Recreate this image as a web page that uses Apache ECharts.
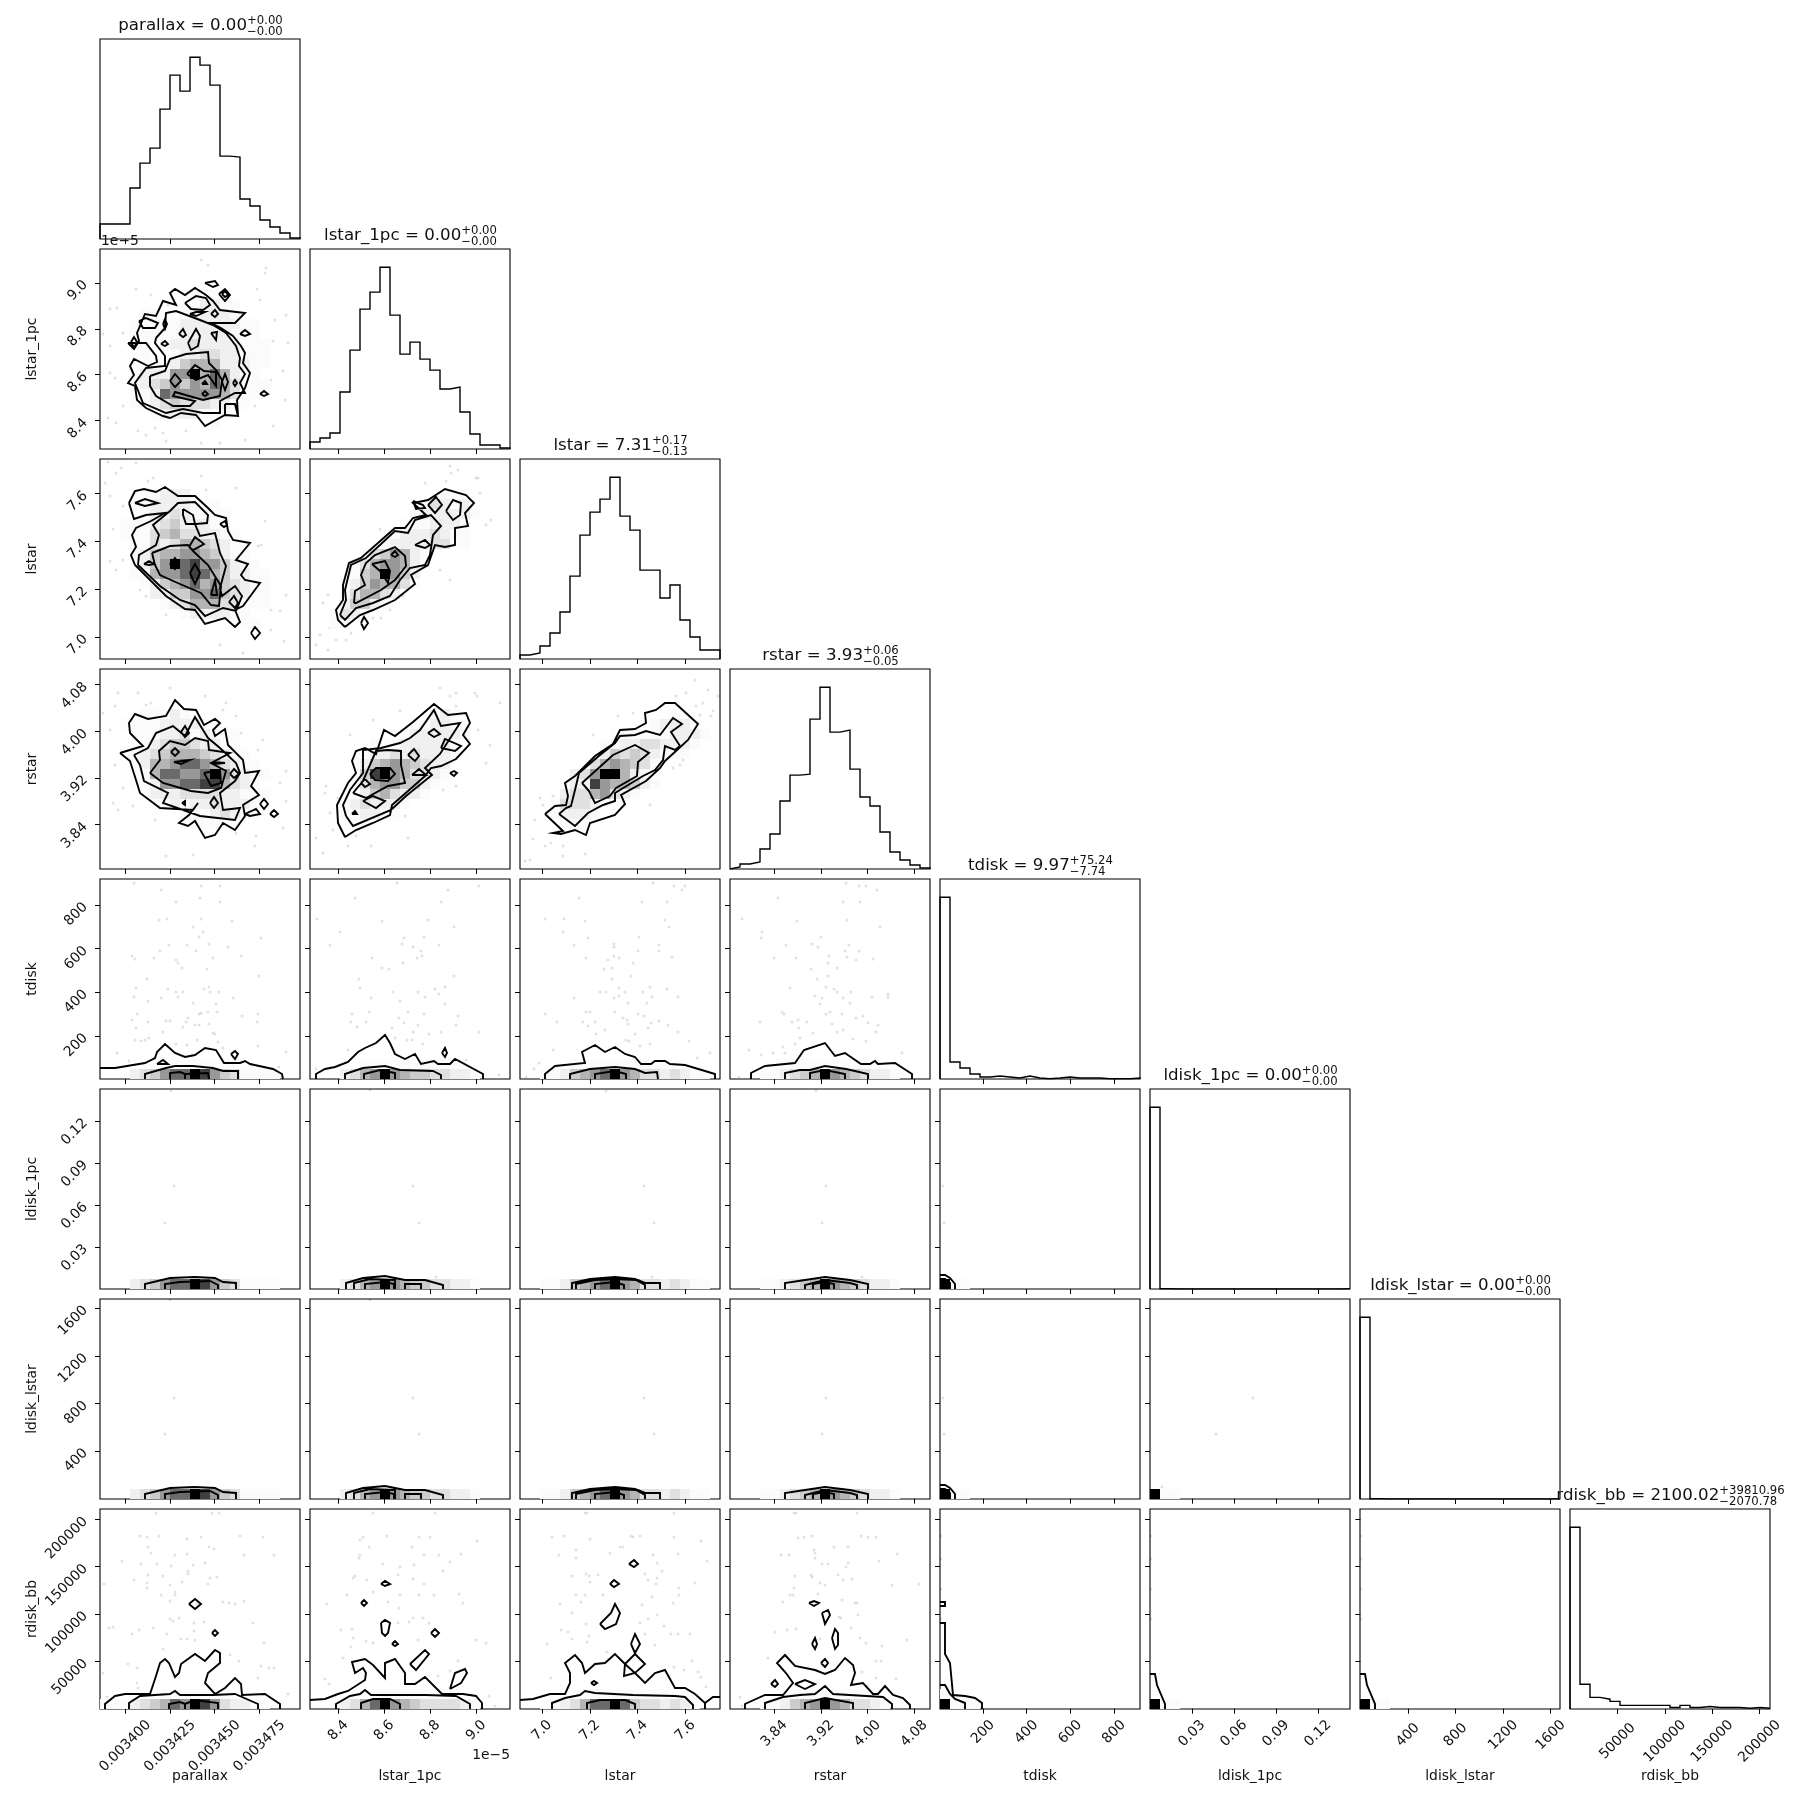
<!DOCTYPE html>
<html><head><meta charset="utf-8"><style>html,body{margin:0;background:#fff}#c{width:1809px;height:1809px}</style>
<script src="https://cdn.jsdelivr.net/npm/echarts@6/dist/echarts.min.js"></script></head><body><div id="c"></div><script>
const varNames=['parallax','lstar_1pc','lstar','rstar','tdisk','ldisk_1pc','ldisk_lstar','rdisk_bb'];
const medians=['0.00','0.00','7.31','3.93','9.97','0.00','0.00','2100.02'];
const uppers=['+0.00','+0.00','+0.17','+0.06','+75.24','+0.00','+0.00','+39810.96'];
const lowers=['\u22120.00','\u22120.00','\u22120.13','\u22120.05','\u22127.74','\u22120.00','\u22120.00','\u22122070.78'];
const axisMin=[0.0033858,8.277e-5,6.908,3.764,3,0,-3,-300];
const axisMax=[0.0034977,9.147e-5,7.745,4.107,919,0.1429,1678,210970];
const tickValues=[[0.0034,0.003425,0.00345,0.003475],[8.4e-5,8.6e-5,8.8e-5,9.0e-5],[7.0,7.2,7.4,7.6],[3.84,3.92,4.00,4.08],[200,400,600,800],[0.03,0.06,0.09,0.12],[400,800,1200,1600],[50000,100000,150000,200000]];
const tickLabels=[['0.003400','0.003425','0.003450','0.003475'],['8.4','8.6','8.8','9.0'],['7.0','7.2','7.4','7.6'],['3.84','3.92','4.00','4.08'],['200','400','600','800'],['0.03','0.06','0.09','0.12'],['400','800','1200','1600'],['50000','100000','150000','200000']];

const hist_parallax=[15,15,15,51,76,91,130,164,148,182,174,154,83,82,40,33,19,12,6,1];
const hist_lstar_1pc=[7,11,16,57,99,140,157,182,134,95,107,90,79,60,62,37,15,4,4,1];
const hist_lstar=[4,6,13,26,47,83,124,147,160,182,143,129,89,89,61,74,39,22,9,9];
const hist_rstar=[2,5,7,20,35,68,94,95,150,182,137,139,100,72,63,37,17,9,4,1];
const hist_tdisk=[182,17,11,5,2,3,2,1,3,1,0.3,1,2,1,1,1,0.3,0.3,0.3,1];
const hist_ldisk_1pc=[182,0.3,0,0,0,0,0,0,0,0,0,0,0,0,0,0,0,0,0,0.2];
const hist_ldisk_lstar=[182,0.3,0,0,0,0,0,0,0,0,0,0,0,0,0,0,0,0,0,0.2];
const hist_rdisk_bb=[182,24.7,11.6,9.8,7.6,3.6,3.6,3.6,3.6,3.6,1.5,3.6,1.5,2.5,1.5,1.5,1.5,0.7,1.5,0.7];
const histograms=[hist_parallax,hist_lstar_1pc,hist_lstar,hist_rstar,hist_tdisk,hist_ldisk_1pc,hist_ldisk_lstar,hist_rdisk_bb];

// 2D histogram density: first number = index of the top row listed, then one string per bin row (level 0-9 per bin)
const heat_1_0=[15,"00000000111100000000","00000000112211000000","00001100112221000000","00011111222222110000","00011111222221110000","00011012232222111000","00001001223322111000","00011112455522211000","00012226695752110000","00012346465753111000","00011276666653111000","00011234333221100000","00000122221110000000","00000000000100000000"];
const heat_2_0=[16,"00001122210000000000","00011222211100000000","00011223211110000000","00111234222110000000","00111345332211000000","00011323554321100000","00012455665421100000","00012469786642110000","00011566787542211000","00001245675643211000","00000224466743211000","00000012355533111000","00000000122221100000","00000000000000110000"];
const heat_2_1=[16,"00000000000001110000","00000000000032120000","00000000001222221000","00000000011122210000","00000000122232110000","00000001222233110000","00000134652100000000","00001356652100000000","00001459642000000000","00002465531000000000","00013553200000000000","00024421000000000000","00132100000000000000","00110000000000000000"];
const heat_3_0=[15,"00001112100000000000","00111122221000000000","00011122312111000000","00011234432211000000","00012345554321100000","00012556776532110000","00011577667963211000","00011266778853210000","00000222333322111000","00000112122322211000","00000000111232110000","00000000011111000000"];
const heat_3_1=[15,"00000000000012100000","00000000001122110000","00000000012222210000","00000011122222100000","00000122323222110000","00001245654322000000","00001489653321000000","00001356644210000000","00000245322100000000","00012322210000000000","00011221100000000000","00001100000000000000"];
const heat_3_2=[15,"00000000000000011000","00000000000001222100","00000000011111122210","00000000112233222100","00000000243432111000","00000003565431000000","00000236995210000000","00000228655421000000","00002335632100000000","00013332100000000000","00012221000000000000","00001110000000000000"];
const strip_c0=[1,"00000111111111000000","00023467798643111100"];
const strip_c1=[1,"00000111111111100000","00023569654433221000"];
const strip_c2=[1,"00000111111111100000","00112456796533232110"];
const strip_c3=[1,"00000111111111100000","00011234596543221000"];
const strip_low_c0=[0,"00023467798643111100"];
const strip_low_c1=[0,"00023569654433221000"];
const strip_low_c2=[0,"00112456796533232110"];
const strip_low_c3=[0,"00011234596543221000"];
const heat_7_0=[1,"00000011111110000000","11123457698632211000"];
const heat_7_1=[1,"00000011111111100000","00023579654333321000"];
const heat_7_2=[1,"00000011111111100000","00112357797433232100"];
const heat_7_3=[1,"00000011111111000000","00011245696533210000"];
const heat_corner=[0,"91100000000000000000"];
const heat_7_4=[1,"11000000000000000000","91110000000000000000"];

// contours: flat lists u,v in bin units along each axis
const closed_1_0=[
[2.8,10.6,3.4,10,3.9,10.8,3.7,11.6,4.5,13.5,5.6,13.3,6.3,14.8,7.6,14.4,7,15.6,7.5,16,8.5,15.4,9.5,16.1,10.6,15.4,11.3,14.8,12,13.9,12.8,13.8,14.5,13.6,13.5,12.6,11.1,12.6,12.1,12.1,13.3,11.3,14.1,10.3,14.5,9.6,14.3,8.6,15,7.6,14.5,6.1,13.7,4.9,13.8,3.3,12.5,3.4,10.5,2.3,9.6,3.4,8.1,3.6,7,3.1,6.3,3.3,4.6,4.1,3.7,4.9,3.5,6.3,2.8,6.6,3.4,7.4,3,8.3,3.4,9,4.8,8.3,5.7,8.7,5.6,9.3,4.6,10.6,3.9,10.6],
[5.6,11.1,6.5,12.1,6.6,13.6,7.6,13.8,10,12.9,11.3,12.4,12.6,11.6,13.6,10.3,14,9.1,13.9,8.3,14.5,7.5,14,6.6,14.5,5.6,13.5,5.6,12,4.8,12,3.6,10.3,3.6,8.3,4,6.6,3.6,4.3,4.6,3.5,6.6,4.6,8.1,6.5,8.3,6.5,9.3,5.5,10.6],
[5,7.3,6.5,7.8,7,9,8.6,9.5,10.8,9.7,10.9,8.6,11.6,7.9,12.2,6.9,12,5.3,10.3,4.9,7.5,5.7,7.3,5.3,9.5,4.8,9,4.3,7.3,4.3,5.6,5.3,5,6.3],
[3.1,10.7,3.4,11.2,3.7,10.7,3.4,10.1],[3.9,12.8,4.6,13.1,5.8,12.6,5.5,12.1,4.3,12.1],[6.3,12.5,6.5,13,6.7,12.5,6.5,12],[6.1,10.5,6.5,10.8,6.8,10.5,6.5,10.3],[7.9,11.5,8.3,12,8.6,11.4,8.3,11.2],[8.8,10.6,9.6,12,10,11.3,9.8,10.3,9.1,9.9],[11.1,11.6,11.7,11.7,11.6,10.9],[14,11.5,14.5,11.9,15,11.5,14.5,11.3],[8.5,14.6,9.6,15.3,10.6,15.1,11,14.4,10.3,13.9,9.1,14],[9,13.5,9.6,13.7,10.5,13.7,9.6,13.3],[11.1,13.5,11.5,13.9,11.8,13.5,11.5,13.2],[10.5,16.6,11.5,16.8,11.8,16.4,11.3,16.2],[11.9,15.5,12.5,16,13,15.4,12.5,14.8],[12.2,15.5,12.5,15.8,12.8,15.4,12.5,15.2],[16,5.5,16.4,5.8,16.8,5.5,16.4,5.3],[12.5,4.5,13.5,4.5,13.8,3.3,12.5,3.4],[7,6.8,7.5,7.5,8.1,6.8,7.5,6.2],[8.7,7.5,9.5,8.4,10.4,7.8,11.6,7.7,11.6,6.3,10.8,7.4,9.6,6.9],[10.2,6.5,10.5,6.8,10.7,6.5,10.5,6.3],[10.2,5.5,10.5,5.8,10.8,5.5,10.5,5.3],[12.2,6.7,12.5,7.5,12.8,6.7,12.5,5.9],[13.3,6.6,13.5,6.9,13.7,6.6,13.5,6.3]];
const closed_2_0=[
[2.9,15.6,3.5,16.8,4.4,17,5.6,16.7,6.5,17.2,7.8,16.3,9.5,16.3,10.8,15.1,11.5,14.4,12.6,14.1,12.8,12.8,13.3,11.9,15,11.6,13.6,9.9,14.8,9.5,14.1,8.4,14.5,7.9,16,7.6,14.3,5.3,13.5,4.9,14,3.7,13.5,3.2,12.5,4.1,10.5,3.5,9.5,4.9,8.5,5,6.6,6.3,3.5,9.4,3.1,10.4,3.6,11.2,3.2,12.4,3.6,13.1,5.1,13.8,6.5,14.6,4.6,14.4,3.4,14],
[3.8,9.4,3.9,10.4,5.6,11.4,5.9,12.4,5.3,13.4,7,14.8,7.8,15.6,9.5,15.7,10.8,14.4,10.7,13.6,9.5,13.5,10,12.3,11.5,12.6,12,10.6,12.6,9.3,12,7.1,12.2,6.3,13.5,7.3,14.2,6.3,13.6,4.8,12.3,5.1,10.5,4.3,9.5,5.4,8,5.9,6,7.3],
[8.3,15,9.3,14.4,9.5,13.5,8.6,13.5,8.3,14.4],
[5.2,10.6,7,11.3,8.8,11.4,9.3,10.8,10.8,9.4,12.1,7.3,11.9,5.3,11.1,5.4,10.1,6.6,8,7.5,6,8.4,5.5,9.4],
[3.5,15.6,4.5,16,5.8,15.6,4.5,15.3],[12,13.5,12.5,13.8,12.7,13.4,12.4,13.2],[8.9,11.2,9.5,12.2,10.4,11.5,9.3,10.9],[4.4,9.5,4.9,9.8,5.4,9.5,4.9,9.4],[7,9.5,7.5,10.1,7.9,9.5,7.5,9],[9,8.6,9.5,9.5,10,8.6,9.5,7.5],[11.1,6.4,11.5,7.9,11.7,6.4],[12.9,5.7,13.4,6.3,13.8,5.6,13.5,5.1],[15.1,2.6,15.5,3.2,16,2.6,15.5,2]];
const closed_2_1=[
[3.5,3.2,2.8,3.9,2.6,4.9,3.3,5.9,3.3,7.4,3.9,9.6,5.1,10.1,8.5,13.1,9.5,13.1,10.3,14.1,11.6,14.4,10.3,15.6,11.8,15.9,13.5,17,15.6,16.4,16.4,15.6,15.5,14.6,15.8,13.3,14.5,13.1,14.5,11.4,13.5,11.2,12.5,11.4,11.8,9.4,10.1,8.4,10.5,7.5,8.5,5.9,6.3,4.9,5,4.4],
[3,4.4,3.6,5.9,3.5,6.9,4.1,9.4,5.6,10.1,8.5,12.8,9.8,12.6,10.5,13.9,12.1,14.4,13.1,13.3,12.3,12.4,12,10.4,11.5,9.4,10,9.1,9,7.9,8,6.3,6.3,5.6,4.6,5.1,3.5,3.9],
[4.4,5.6,4.5,6.8,5.5,7.4,5.1,8.4,5.6,9.6,6.5,10.4,8.5,11.2,9.5,10.3,9.6,9.3,8.5,7.9,7.1,6.9,4.6,5.6],
[6.2,9.5,7.5,9.8,8,8.8,7.8,7.6,7,8.8],[8.1,10.4,8.5,10.8,8.8,10.4,8.5,10.2],[10.5,11.4,11.5,11.9,12,11.4,11.5,11.1],[5.1,3.6,5.4,4.2,5.8,3.6,5.4,3],[11.8,15.4,12.6,16.2,13.2,15.4,12.5,14.6],[13.6,14.8,14.3,15.9,15.1,15.6,15,14.4,14.3,13.9],[10.3,15.8,11.3,15.4,11.5,15.1,10.6,15]];
const closed_3_0=[
[2,11.6,4.3,12.3,3,13.6,2.9,14.6,3.5,15.5,4.8,15,6.6,15.3,7.5,16.9,8.4,16,9.6,15.9,10.4,14.4,11.5,15,12,14.6,11.3,13.9,11.5,13.3,12.5,14,12.8,12.4,14.3,10.9,14.5,9.6,15.9,9.8,15.1,8.3,15.9,7.4,14.3,6.4,14.5,5.3,13.5,3.9,12.3,4.6,11.5,3.4,10.5,3.1,9.5,4.8,8.8,4.3,7.9,4.6,8.9,5.4,9.8,6.6,9.3,5.9,6,6.1,4,7.6,3.6,8.9,3,10.8],
[3.4,11.4,4.8,12.1,5.6,13.6,7.3,14.3,8.5,13.3,9.5,15.2,10.8,13.1,12,12.1,13.6,10.6,14,9.6,13.5,8.8,12,7.6,12.3,5.9,14,6.1,13.5,4.9,10,5.3,6.3,6.6,6.8,7.6,4.4,8.8,4,10.4],
[5,9.6,6,10.9,5.9,11.8,7,12.8,8.5,12.4,9.5,13.1,10.8,12.8,10.9,11.9,13,11.6,11.1,10.6,12.6,9.8,12.1,8.1,10.8,7.6,9.1,7.8,6.3,8.6],
[8.1,13.7,8.5,14.3,8.9,13.6,8.5,13.2],[7.1,11.7,7.5,12.1,7.9,11.7,7.5,11.3],[7.4,10.7,9,10.9,8.1,10.5],[11.3,10.7,12.5,10.6,11.3,10.5],[10.4,9.6,12,9.9,12.1,8.6,11.1,8.3,10.8,8.9],[13,9.5,13.4,10,13.9,9.5,13.4,9.1],[8.2,6.6,8.5,6.8,8.7,6.6,8.5,6.4],[11,6.6,11.4,7.2,11.8,6.6,11.4,6.1],[16,6.5,16.4,7,16.8,6.5,16.4,6],[17,5.5,17.4,5.9,17.8,5.5,17.4,5.2],[14.5,5.5,15.6,6,16,5.5,15,5.3]];
const closed_3_1=[
[3.5,3.2,2.8,4.6,2.7,6.4,3.8,8.6,4.6,9.6,4.2,10.8,4.6,11.8,5.5,12.1,6.6,11.5,7.4,13.9,8.5,13.3,10.3,14.7,12.4,16.5,13.8,15.4,15.6,15.6,16,14.6,15.3,13.4,16,12.5,14.6,11,13.1,10.3,12.1,10.1,11.5,9.3,9.8,7.8,8.2,6.4,8,5.4,6.3,4.6,4.6,3.9],
[3.6,5.3,3.3,6.4,4,7.9,5.3,9.6,5.3,11.9,7.1,12.1,9,12.6,10,13.1,11,13.9,12.4,15.9,13.1,14.3,15,14.6,13.9,12.9,13,11.5,11.5,10.1,12.2,9.4,9.6,7.3,8.1,5.9,4.3,4.3],
[4.3,7.6,5.3,8.8,6.6,11.8,7.8,11.9,9.1,11.8,9.1,10.4,9.5,8.6,7.8,8.3,5.6,7.1],
[6,9.5,6.6,10.1,8,10.1,8.5,9.5,7.8,8.8,6.5,8.9],[5.1,8.6,5.5,9,6,8.5,5.5,8.2],[5.3,6.8,6.3,7.3,7.5,6.8,6.6,6.1],[4.2,5.5,4.5,5.8,4.7,5.5,4.5,5.3],[9.8,11.4,10.4,12,10.9,11.3,10.5,10.8],[11.8,13.6,12.4,14,13,13.5,12.4,13.2],[13.1,12.1,13.5,13,15.1,12.3,14.5,11.8],[10.2,9.4,10.9,10,11.6,9.4],[14,9.6,14.4,9.8,14.7,9.6,14.4,9.3]];
const closed_3_2=[
[2.5,5.5,3.5,6.3,4.6,6.4,4.8,7.3,4.5,8.6,5.5,9.3,7.5,11.3,9.3,12.5,10,13.9,11.5,14,12.6,14.6,12.5,15.6,13.6,15.9,14.5,16.6,15.5,16.6,17.8,14.5,16.8,12.9,15.6,11.8,14.5,10.8,14,10.1,12.6,8.8,10.1,7.4,10.5,6.5,9.5,5.4,7,4.6,6.6,3.4,5.5,3.9,4.1,3.5,3.3,3.6,4.3,3.8],
[3.9,5.5,4.6,6.1,5.1,6.3,5.6,8.3,5.9,9.6,8,11.4,9.5,12.6,10,13.3,11.5,13.4,12.6,13.8,14,13.4,15.3,15.1,16.2,14.5,15.1,13.7,16,12.3,15.5,11.9,14.5,12.3,14.3,10.9,13.5,9.9,12.3,9.3,9.5,7.6,9.5,6.8,8.3,6.4,6.8,5.6,5.5,4.3],
[6.2,8.6,9.3,11.4,11.5,12.4,12.9,11.6,11.8,10.7,11.7,9.3,9.6,8.1,9,7.3,7.5,6.6,6.9,7.8]];
const closed_4_0=[[13.1,2.5,13.5,2.8,13.8,2.5,13.5,2],[5.7,1.5,6.3,1.9,6.8,1.5]];
const open_4_0=[[0,1.1,1.5,1.1,4.5,1.6,5.5,2.1,5.7,2.7,6.5,3.5,7.5,2.6,8.5,2.2,9.5,2.4,10.5,3.1,11.6,2.9,12.4,1.6,14,1.6,14.5,1.8,15,1.5,17.3,1,18.2,0.5,18.3,0],[4.5,0,4.5,0.5,6.6,1.1,7.5,1.3,9.3,1.3,11.3,1.1,12.3,0.8,13.8,0.8,13.8,0],[7,0,7,0.6,8,0.7,8.5,0.5,10.8,0.6,10.9,0],[8.5,0.5,8.5,0]];
const closed_4_1=[[13.2,2.6,13.5,3.1,13.7,2.6,13.5,2.2]];
const open_4_1=[[0.6,0,0.6,0.5,1.5,1,2.5,1.2,3.8,1.7,4.8,2.7,5.5,3.1,6.6,3.6,7.5,4.4,8,3.6,8.5,2.5,9.5,2,10.5,2.5,11.1,1.5,12.4,1.8,12.8,1.5,14,1.5,14.5,2,17.3,0.5,17.3,0],[3.5,0,3.5,0.5,5.3,1.1,7.5,1.3,9,0.9,12.3,0.8,13.1,0.4,13.1,0],[5.4,0,5.4,0.5,7,0.9,8.5,0.6,8.5,0]];
const open_4_2=[[2.5,0,2.5,0.5,3.5,1.3,6.5,1.6,6.2,2.7,7.5,3.4,8.5,2.7,9.5,3.2,10.5,2.5,11.5,2.2,12.1,1.5,13.1,1.5,13.5,1.8,14.5,1.8,15,1.5,16.5,1.4,18.5,0.8,19.5,0.5,19.5,0],[5,0,5,0.5,7,1,9.5,1.2,11.5,1,12.5,0.6,13.7,0.7,13.8,0],[7.5,0,7.5,0.5,9.5,0.8,10.6,0.5,10.6,0]];
const open_4_3=[[2.1,0,2.1,0.6,3.5,1.3,6.5,1.6,7.4,2.9,9.5,3.6,10.5,2.3,11.5,2.6,13.1,1.5,14,1.5,14.5,1.8,14.8,1.5,16.5,1.6,18.2,0.5,18.2,0],[5.5,0,5.5,0.6,7,0.9,8,0.9,9.5,1.3,11.6,1,13.8,0.5,13.8,0],[8,0,8,0.6,9.5,0.9,11.5,0.5,11.5,0]];
const open_low_c0=[[4.5,0,4.5,0.5,7,1.1,9.5,1.2,11.5,1.1,12.3,0.7,13.6,0.6,13.6,0],[6.5,0,6.5,0.5,8,0.7,11,0.8,11.8,0.4,11.8,0]];
const open_low_c1=[[3.6,0,3.6,0.6,5.3,1.1,7.5,1.3,9.5,0.9,11.5,0.9,13.3,0.4,13.3,0],[4.4,0,4.4,0.6,6,1,8.5,0.9,8.5,0],[9.5,0,9.5,0.5,11.1,0.5,11.1,0],[5.5,0,5.5,0.5,7.5,0.7,8.4,0.5,8.4,0]];
const open_low_c2=[[5.2,0,5.2,0.6,7,1,9.5,1.2,11.5,1,12.5,0.6,14,0.6,14,0],[5.6,0,5.6,0.5,7.5,0.9,9.5,1,11.6,0.9,12.5,0.4,12.5,0],[7.5,0,7.5,0.5,9.5,0.7,10.4,0.4,10.4,0]];
const open_low_c3=[[5.5,0,5.5,0.6,7.5,0.9,9.5,1.2,12,0.9,13.8,0.5,13.8,0],[7.5,0,7.5,0.4,9.5,0.9,12,0.6,12.7,0.4,12.7,0],[8.3,0,8.3,0.5,9.5,0.7,10.4,0.5,10.4,0]];
const open_low_c4=[[0,1.4,0.5,1.4,1,1.1,1.5,0.5,1.5,0],[1,0,1,0.6,0.5,1,0,1]];
const closed_7_0=[[8.9,10.5,9.5,11,10.1,10.5,9.5,10],[11.2,7.6,11.5,7.9,11.8,7.6,11.5,7.3]];
const open_7_0=[[0.5,0,0.5,0.5,1.5,1.3,2.5,1.5,5,1.5,5.6,3.3,6,4.6,6.5,5,6.9,4.6,7.5,3.2,7.9,3.6,8.1,4.5,9.5,5.5,10.5,4.8,11.5,5.9,12,5.6,12,4.6,10.8,3.6,10.5,2.6,11.5,1.5,12.5,2.1,13.5,3.1,14.1,2.5,14.2,1.4,16.5,1.5,18,0.5,18,0],[2.9,0,2.9,0.6,4,1.3,7,1.5,7.5,1.8,8,1.4,11.3,1.4,13.5,1.5,15.8,0.5,15.8,0],[6.9,0,6.9,0.5,8,0.7,8.5,0.5,9.5,0.9,11.8,0.6,11.8,0],[8.5,0.5,8.5,0]];
const closed_7_1=[[7.1,12.5,7.5,12.8,8,12.5,7.5,12.3],[5.1,10.6,5.4,10.9,5.7,10.6,5.4,10.3],[7.1,8.6,7.5,8.9,8,8.6,7.8,7.6,7.5,7.3,7.2,7.6],[12.1,7.6,12.5,8,12.9,7.6,12.5,7.2],[8.2,6.5,8.5,6.8,8.8,6.5,8.5,6.3],[10,4.5,11.5,5.9,11.9,5.5,10.6,3.9],[14,2,14.5,3.6,15.5,4,15.7,3.6,15.1,2.6]];
const open_7_1=[[0,0.9,1.5,1,2.8,1.5,3.8,1.8,5.5,2.9,5.6,3.6,5.3,4.1,4.5,3.6,4.2,4.7,5.5,5,6.3,4.4,7.5,3.1,7.5,4.6,8.5,5,9.5,3.6,9.5,2.5,10.5,2.5,11.5,3.2,13.2,1.5,15.3,1.5,16.6,1.3,17.2,0.6,17.2,0],[2.6,0,2.6,0.5,4,1.3,5,1.5,5.5,1.9,6.1,1.4,11.6,1.4,14.6,1.3,16,0.5,16,0],[5.1,0,5.1,0.6,6.3,1,8,1,9,0.5,9,0]];
const closed_7_2=[[11.5,5.5,12.5,4.5,11.5,3.6,10.4,3.3,10.5,4.5],[10.9,14.5,11.4,14.9,11.8,14.5,11.4,14.2],[9,12.5,9.4,12.9,9.9,12.5,9.4,12.2],[8,8.5,9.1,9.6,9.5,10.5,10,9.6,9.6,8.5,8.5,8],[11.1,6.5,11.5,7.5,12,6.5,11.5,5.6],[7.1,2.6,7.4,2.8,7.7,2.6,7.4,2.4]];
const open_7_2=[[0,0.9,1.3,1,3,1.5,4.5,1.5,5,2.6,5,3.6,4.5,4.6,5.5,5.4,6.2,4.6,6.5,3.6,7.5,4.5,8.5,4.6,9.5,5.5,10.5,4.5,11.5,3.6,12.5,2.6,13.5,3.6,14.5,3.9,15.5,2.1,16.5,2.1,17.5,1.5,18.5,0.6,19.3,1.2,20,1.2],[18.5,0.6,18.5,0],[3.2,0,3.2,0.6,4.5,1.1,6,1.4,6.5,1.8,7.5,1.6,11.3,1.4,15.5,1.3,16.5,1.2,17.3,0.4,17.3,0],[6.7,0,6.7,0.6,8,0.9,10.5,0.9,11.5,0.5,11.5,0]];
const closed_7_3=[[4.1,2.5,4.5,2.9,4.8,2.5,4.5,2.2],[6.5,2.5,7.5,2.9,8.5,2.5,7.5,2],[9.1,4.6,9.5,5,9.8,4.6,9.5,4.2],[8.2,6.5,8.5,7.1,8.7,6.5,8.5,6],[10.2,7.1,10.5,8,10.8,7.6,10.8,6.4,10.5,6],[9.2,9.6,9.8,9.9,10,9.4,9.5,8.5],[7.9,10.6,8.4,10.8,8.9,10.6,8.4,10.3]];
const open_7_3=[[1.5,0,1.5,0.5,3.5,1.4,5.3,1.4,6.3,2.6,5.6,3.6,4.7,4.6,5.5,5.4,6.5,4.3,8.5,3.9,9.5,3.5,10.5,3.9,11.5,5.1,12.3,4.4,12.5,3.6,12.1,2.4,13.3,2.6,14.3,1.5,14.8,1.5,15.5,2.3,16.3,1.4,17.3,1.1,18,0.4,18,0],[3.5,0,3.5,0.6,5.3,1.2,7,1.4,8.5,1.5,9.5,2.3,10.3,1.5,15.3,1.2,16.2,0.5,16.2,0],[7.5,0,7.5,0.6,9.5,1.1,12.3,0.6,12.3,0]];
const open_7_4=[[0,10.7,0.5,10.7,0.6,10.5,0.5,10.3,0,10.3],[0,8.6,0.5,8.6,0.5,5.5,1,4.6,1.3,1.4,2.5,1.3,3.5,1.1,4.2,0.6,4.2,0],[0,2.4,0.5,2.4,1,1.5,1.5,1,2.5,0.6,2.5,0]];
const open_7_5=[[0,3.5,0.5,3.5,0.7,2.4,1.5,0.5,1.5,0]];

// faint individual samples: flat lists u,v in bin units
const dots_1_0=[10.1,18.9,10.8,18.4,16.6,18.1,16.5,17.6,15.7,16,16,14.9,3.6,16,5.1,15.4,1.7,14.1,1,14,6.8,14.4,0.3,11.5,1,10.3,2.3,11.6,1.5,7.1,1,7.6,18.6,13.4,17.5,12.9,18.8,10.6,17.3,10.8,16.3,9.4,16.8,8.6,18.3,7.8,17.1,6.9,15.8,6.6,18.5,4.9,15.5,4.3,2.3,4.3,0.8,3.1,1.6,2.6,3.8,1.8,4.6,1.4,5.5,2.1,6.3,1.6,6.6,0.8,10.1,0.6,12,0.6,14.5,0.9,17.3,2.3,8.6,1.8];
const dots_2_0=[0.8,19.7,2.1,19.1,1.6,18.6,3.6,19.6,0.5,17.6,5.3,18.1,4.8,17.8,10.1,18.3,10.6,16.9,13.6,17.1,16.5,13.8,1.3,13,1,16.3,2.3,15.3,15.8,11.3,16.1,11.4,15.3,9.3,1,9.8,2.3,9.9,1.6,8.9,16.3,7.3,18.6,6.4,4,6.9,4.6,6.3,6.3,5.3,6.6,4.4,17.1,4.9,18,4.8,16.8,5.3,12,1.4,18.4,1.8,16,2.6,14.3,0.6,17.1,2.9];
const dots_2_1=[14,19.3,14.1,18.6,14.8,18.9,11.5,17.6,16.6,18.1,17,16.6,18.1,13.9,17.6,13.4,13,8.9,14,7.9,1.8,6.4,1.3,5.6,2,3.1,4.1,2.6,3.6,1.9,2.6,1.9,0.6,1.4,1.8,0.9,7.1,4.1,8,4.9,9.3,6.3,6.3,4.1,1,2.4,7,13,16.8,18.1,13.6,17.8];
const dots_3_0=[0.3,15.6,1,13.9,1.5,16.3,1.8,17.6,3.8,17.6,4.6,16.4,5.1,16.6,7,18.1,10.5,17.3,12.6,16.6,12.3,15.9,13.6,15.3,14.1,13.6,16.3,12.9,15.8,11.9,18.6,9.8,2.3,8.1,1.5,10.4,1.8,5.9,1.3,6.6,3.3,6.3,5.5,4.9,6.6,1.3,16.3,7.6,18,8.6,18.6,6.8,18.3,4.1,15.6,3.3,15.5,2.3,13.6,3.6,9.3,1.4];
const dots_3_1=[14.6,17.6,16.5,17.6,16.7,17.3,14.6,16.3,14,17.3,19,16.6,16.8,13.9,18,12.4,17.6,10.6,13,18.1,9,15.8,6.3,14.9,4,13.4,1.6,8.3,1.5,7.6,2.8,7.1,0.6,3.1,2.3,3.9,3.8,2.3,4.6,3.3,6.1,2.3,9.8,3.1,9.5,5.3,7.8,5.6,14.6,8.3,13.3,7.9,2,5.6,1.3,1.6];
const dots_3_2=[17.5,18.9,16.6,17.6,17.6,16.3,18.3,16.6,18.8,17.9,19.8,17.3,19.3,15.8,19.1,15.3,18,15.4,15.6,17.3,11.3,15.6,9.8,15.3,7.3,13.4,16,10.4,15.3,10.1,16.3,10.9,13.3,8.3,11.3,7.4,13,6.4,2,7.1,3.3,7.3,2.3,6.4,1.5,4.9,3.1,2.6,2.5,2.3,4.3,2.3,1.3,3,6.5,1.5,1,0.9,0.5,0.8,4.3,1.3];
const dots_4_0=[3.4,19.6,6.1,18.9,10.1,19.3,12,19.3,10,18.1,7.6,17.7,12,17.7,5.9,15.9,6.7,16,10.1,16,13.2,15.8,9.3,15.2,10.3,14.7,9.9,14.2,16.1,14.1,6.9,13.4,8.7,13.4,10.9,13.5,12.8,13.2,6,12.8,9.6,12.8,14.1,12.3,3.2,12.3,3.5,12,5.4,12.1,7.6,11.9,11.3,12.1,7.8,11.6,8.2,11.1,10.7,11,15.9,10.3,4.7,10,3.6,9.1,6.8,9,10.4,9,10.9,9.2,7.6,8.7,8.3,8.7,11,8.7,11.9,8.7,3.4,8.2,6.1,8.1,7.8,8.2,13.3,8.1,4.8,7.8,9.3,7.6,11.6,7.5,3.7,6.5,10.1,6.6,10.8,6.7,9.9,6.5,11.7,6.7,14.2,6.3,15.8,6.5,8.8,6.1,3.2,5.9,6.6,5.8,7,5.8,4.8,5.7,8.6,5.7,9.5,5.4,9.9,5.4,10.9,5.5,15.7,5.7,8.3,5.2,3.6,5.1,6.3,4.7,11.3,4.6,11.5,4.5,4.9,4.1,3.5,3.9,4.1,3.8,4.5,3.9,7.6,3.5,8.7,3.4,15.8,3.3,9.7,3.9,11.8,3.7,12.3,3.1,1.7,2.6,18.6,2.7,2.9,1.8,17.9,1.2];
const dots_4_1=[8.7,19.6,16.9,19.3,13.8,18.9,4.5,18.1,13.1,17.7,0.7,16,7.2,15.8,11.8,15.9,14.4,15.2,3,14.7,9.4,14.1,11.4,14.2,2,13.4,9.2,13.5,10.3,13.2,12.9,13.4,11.1,12.8,6.2,12.1,11.2,12.3,10.7,12.1,9.3,11.6,7.2,11.1,7.9,11,14.4,10.3,4.9,10,5,9.1,12.5,9,13.5,9.2,8.3,8.7,10.8,8.7,12.9,8.5,6.1,8.1,11.5,8.2,9,7.8,13.5,7.5,9.8,6.7,4.2,6.5,5.9,6.7,8.9,6.1,11.4,6.5,14.8,6.3,4.1,5.7,5.6,5.7,9.4,5.6,10.8,5.4,14.6,5.4,4.7,5.2,8.2,5.1,13.1,4.7,10.3,4.7,16.9,4.7,3.8,2.9,8.5,4.1,11.9,4.5,9.7,3.9,10.2,3.9,11.3,3.5,2.9,1.4,0.6,1,18.9,0.4,15.6,1.9];
const dots_4_2=[13.3,19.6,16.5,19.3,15.4,19.3,16.2,18.9,5.9,18.1,12.2,17.7,14.7,17.7,2.5,16,4.4,16,6.5,15.8,14.5,15.9,14.9,15.2,4.3,14.7,6.8,14.1,11.9,14.2,5.4,13.4,9.4,13.5,9.4,13.2,13.9,13.4,11.8,12.8,13.9,12.8,6.6,12.1,9.4,12.3,9.9,12.1,15.2,12.2,8.8,11.9,11.3,11.6,9.2,11.1,8.4,11,11.1,10.3,9.2,10,9.9,9.1,8,8.7,8.6,8.7,10.5,8.7,12.3,8.7,13,9.2,14.7,9,5.4,8.1,9.4,8.1,9.9,8.3,13.2,8.2,15.8,8.2,10.8,7.6,12.7,7.6,2.5,6.5,6.6,6.7,7,6.7,9.5,6.7,11.8,6.5,12.4,6.3,10.3,6.1,3.7,5.7,6.3,5.7,7.5,5.7,10.7,5.9,13.1,5.6,13.9,5.8,14.8,5.4,6.8,5.3,8.5,4.9,10.8,5.5,12.8,5.1,15.8,4.7,11.5,4.5,7.6,4.5,16.9,3.8,3.3,2.9,10.6,3.9,10.9,3.8,12,3.3,13,3.5,19,2.6,1.9,1.6,17.7,2.1,1.4,1,0.6,0.2];
const dots_4_3=[11.6,19.6,12.9,19.3,13.6,19.3,14.7,18.9,4.8,18.1,11.3,17.7,13,17.7,1.2,16,6.7,15.8,11.7,15.9,15,15.2,3.2,14.7,3.1,14.1,9.1,14.2,5.6,13.4,8.2,13.5,8.8,13.2,11.9,13.4,11.5,12.8,12.9,12.8,9.9,12.3,11.7,12.2,4.4,12.1,6.6,12.1,12.6,11.9,14.3,12,9.8,11.6,10.7,11.1,8.1,11,9.8,10.3,8.7,10,6,9.1,9.6,9.2,10.7,8.7,10.4,9,12.1,8.7,15.8,8.5,15.8,8.2,8.5,8.3,9.2,8.1,11.3,8.1,14.2,8.2,12,7.6,9,7.5,5.2,6.7,5.4,6.5,10,6.7,9.6,6.5,11.2,6.5,13.3,6.3,12.6,6.1,3,5.7,6.2,5.7,6.8,5.9,7.7,5.7,14.8,5.4,10.2,5.5,13.8,5.6,11.3,4.9,14.6,4.7,6.9,5.1,8.3,4.6,10.7,4.7,7,4.1,12.3,4,13.6,3.8,6.5,3.5,5.3,3.2,1.9,2.9,4.3,2.6,5.5,2.6,17.2,2.6,3.1,2.4,0.9,0.2];
const dots_5_0=[7.4,10.3,6.5,6.6,7.1,19.8];
const dots_5_1=[10.3,10.3,10.9,6.6,6,19.9,12.6,1.2,14.5,0.8];
const dots_5_2=[12.4,10.3,13.4,6.6,8.6,19.8,13.2,1.2,15.3,0.8];
const dots_5_3=[9.6,10.3,9.2,6.6,8.6,19.8,13.2,1.2,14.5,0.8];
const dots_5_4=[0.3,10.3,0.4,6.6];
const dots_6_0=[7.4,10.1,6.5,6.5,7,19.9];
const dots_6_1=[10.3,10.1,10.9,6.5,6,19.9];
const dots_6_2=[12.4,10.1,13.4,6.5];
const dots_6_3=[9.6,10.1,9.2,6.5];
const dots_6_4=[0.3,10.1,0.4,6.5];
const dots_6_5=[10.3,10.1,6.6,6.5,1.2,1.2];
const dots_7_0=[5.6,19.6,11.2,19.6,11.9,19.6,4,17.3,4.7,17.2,5.9,17.3,8.7,17,10.1,17.2,14,17.3,16.3,17.2,4.8,16.2,10.9,16.2,11.4,16,5.1,15.6,7.5,15.4,8.7,15.5,14.4,15.4,17.4,15.4,2.2,14.8,4.1,14.5,5.7,14.5,7.1,14.3,8.8,13.8,9.3,14.4,10.5,14.6,4.8,13.4,6.3,13.3,8.8,13.5,11.7,13.2,3.4,12.9,8.2,12.7,11,13.1,4.7,12.6,0.4,12.5,7,12.4,10.8,12.5,4.7,12.1,7.5,11.7,6.1,11.4,7.5,11.4,7,10.8,12.3,10.7,13.5,10.5,14.4,10.8,12.9,10.6,9.7,10.5,7,9,7.9,9.1,7.3,8.8,10.4,8.7,9.4,8.6,0.9,8.1,1.3,8.2,3.9,7.9,5.3,8.1,6.7,7.5,9.4,7.8,15.3,8.6,3.2,7.5,8.1,7,8.7,7,9.5,6.9,16.4,6.6,6.3,6,0.3,3.6,2.8,4.5,13,5.4,13.9,4.8,16.1,4.3,16.9,4.1,3.7,4.1,3.7,2.6,3.8,2.1,18.8,1.5,0.7,1.2,15.8,3.1,17.4,4.1];
const dots_7_1=[6.3,19.6,12.5,19.6,5.3,17.2,5,16.9,7.7,17.3,10.9,17.2,12,17.2,16.7,16.8,10.2,16.2,5.9,16.2,5,15.4,4.9,15.1,11.4,15.4,12.9,15.4,15.1,15.5,14,14.7,7.3,14.5,9,14.2,10.4,14.4,13.3,13.8,4.5,13.3,4.3,13.1,8.8,13.4,5.7,12.9,10.3,13,11.4,12.5,14.9,11.5,3.7,11.4,6.3,11.7,9,11.4,10.9,11.4,12.4,11.4,1.7,10.5,7.8,10.7,15.3,10.6,8.9,10.1,9.9,8.7,11.3,9.1,10.3,9.1,3.1,7.9,4.2,8,8.8,8.6,11.9,8.6,4.3,7.1,5.6,6.8,6.3,6.6,10.8,6.9,16.6,6.9,17.6,6.6,4.1,6.2,3.3,5.1,12.8,3.3,14,3.8,14.8,4.8,1.5,3,1.9,2.5,17.9,1.3,18.5,0.3];
const dots_7_2=[6.5,19.6,6.7,19.6,15.4,19.6,3.2,17.2,4.4,17.3,7,17,11.1,17.3,11.3,17.2,12,17.3,15.4,17.2,18.1,16.8,10,16.2,10.3,16.2,5.6,15.9,9,15.6,3.9,15.4,5.6,15.1,13.3,15.4,15.8,15.5,18.7,14.8,13.7,14.6,14.2,13.8,6.6,13.5,5.2,13.3,6.9,13.3,7.8,13.4,12.5,13.5,13.7,13.1,7,12.7,13.6,12.5,12.8,12.9,15.9,12.1,17.5,12.6,5.6,11.4,6.5,11.4,8.3,11.4,13.2,11.2,15.9,11.4,4,10.5,6.1,10.7,12.2,10.4,15.3,10.6,5.2,9.6,13.7,9.4,12.8,9,6.6,8.5,12,8.6,4.1,7.9,4.8,7.7,14.4,8.3,12.5,7.5,15.1,7.5,15.8,7.5,6.9,7.3,5.2,7,17,7.5,13.5,6.4,2.7,6.5,6.7,6.7,8.7,5.7,15.4,4.2,16.4,3.9,17.2,4.8,17.8,3.7,18.1,3.2,3.1,3.1,18.6,2.2];
const dots_7_3=[6.4,19.6,6.6,19.6,12.7,19.6,6.8,17.1,7.4,17.2,8.2,17.3,13.1,17.3,13.8,17.2,14.6,17.2,10.4,16.2,11.8,16.2,8.4,15.9,8.5,15.6,5.1,15.4,5.9,15.4,8.5,15.1,16.7,15.5,9.8,14.5,9.2,14.5,11.8,14.6,11.6,14.2,14.9,14.8,8.1,13.4,8.2,13.2,10.8,13.4,11.3,12.9,12.2,13,6.5,13.3,6.4,12.1,9,12.6,9.5,12.4,16.2,12.4,18.9,12.5,6,11.4,6.3,11.4,8.8,11.5,11.2,10.9,5.3,10.7,12.5,10.6,12.7,10.6,10.9,9.2,11.1,9.1,12.8,9.4,12.1,8.1,4.5,7.7,5.7,7.9,6.6,8,15.2,6.3,17.7,6.9,9,7,13,7.1,13.6,6.6,14.6,4.8,15.1,4.8,13.2,3.7,14.6,3.1,3.8,5.1,16.6,3,13.7,2.3,1,1.2,1.2,0.3];
const dots_7_4=[0.1,17.3,0.1,15,0.1,12,0.1,9];
const dots_7_5=[0.1,17.3,0.1,15,0.1,12,0.1,9];

const panelMarks={
'1_0':[heat_1_0,closed_1_0,[],dots_1_0],'2_0':[heat_2_0,closed_2_0,[],dots_2_0],'2_1':[heat_2_1,closed_2_1,[],dots_2_1],
'3_0':[heat_3_0,closed_3_0,[],dots_3_0],'3_1':[heat_3_1,closed_3_1,[],dots_3_1],'3_2':[heat_3_2,closed_3_2,[],dots_3_2],
'4_0':[strip_c0,closed_4_0,open_4_0,dots_4_0],'4_1':[strip_c1,closed_4_1,open_4_1,dots_4_1],'4_2':[strip_c2,[],open_4_2,dots_4_2],'4_3':[strip_c3,[],open_4_3,dots_4_3],
'5_0':[strip_low_c0,[],open_low_c0,dots_5_0],'5_1':[strip_low_c1,[],open_low_c1,dots_5_1],'5_2':[strip_low_c2,[],open_low_c2,dots_5_2],'5_3':[strip_low_c3,[],open_low_c3,dots_5_3],'5_4':[heat_corner,[],open_low_c4,dots_5_4],
'6_0':[strip_low_c0,[],open_low_c0,dots_6_0],'6_1':[strip_low_c1,[],open_low_c1,dots_6_1],'6_2':[strip_low_c2,[],open_low_c2,dots_6_2],'6_3':[strip_low_c3,[],open_low_c3,dots_6_3],'6_4':[heat_corner,[],open_low_c4,dots_6_4],'6_5':[heat_corner,[],[],dots_6_5],
'7_0':[heat_7_0,closed_7_0,open_7_0,dots_7_0],'7_1':[heat_7_1,closed_7_1,open_7_1,dots_7_1],'7_2':[heat_7_2,closed_7_2,open_7_2,dots_7_2],'7_3':[heat_7_3,closed_7_3,open_7_3,dots_7_3],
'7_4':[heat_7_4,[],open_7_4,dots_7_4],'7_5':[heat_corner,[],open_7_5,dots_7_5],'7_6':[heat_corner,[],open_7_5,dots_7_5]};

const grayLevels=['#ffffff','#fbfbfb','#f0f0f0','#e0e0e0','#cccccc','#b4b4b4','#989898','#6a6a6a','#404040','#000000'];
const FONT='"DejaVu Sans"',LABEL=13.9,TITLE=16.67,SCRIPT=11.67,INK='#111';
const PANEL=200,PITCH=210,X0=100,Y0=39;

const meas=document.createElement('canvas').getContext('2d');
function textW(s,size){meas.font=size+'px "DejaVu Sans"';return meas.measureText(s).width;}
function marginFor(i){const w=Math.max(...tickLabels[i].map(s=>textW(s,LABEL)));return 9.7+(w+11)*0.7071/2;}
const uX=(c,u)=>axisMin[c]+(axisMax[c]-axisMin[c])*u/20;

const grids=[],xAxes=[],yAxes=[],series=[],graphics=[];
let idx=0;
for(let r=0;r<8;r++)for(let c=0;c<=r;c++){
  const diag=r===c,left=X0+PITCH*c,top=Y0+PITCH*r;
  grids.push({left,top,width:PANEL,height:PANEL,show:true,borderColor:'#000',borderWidth:1.1,backgroundColor:'#fff',containLabel:false,outerBoundsMode:'none'});
  const labX=r===7,labY=c===0&&!diag;
  xAxes.push({type:'value',gridIndex:idx,min:axisMin[c],max:axisMax[c],position:'bottom',splitLine:{show:false},axisLine:{show:false},
    axisTick:{show:true,length:5,inside:false,lineStyle:{color:'#000',width:1},customValues:tickValues[c]},
    axisLabel:{show:labX,customValues:tickValues[c],rotate:45,align:'center',verticalAlign:'middle',margin:marginFor(c),fontFamily:FONT,fontSize:LABEL,color:INK,hideOverlap:false,
      formatter:v=>{let b=0;tickValues[c].forEach((t,i)=>{if(Math.abs(t-v)<Math.abs(tickValues[c][b]-v))b=i;});return tickLabels[c][b];}},
    name:labX?varNames[c]:'',nameLocation:'middle',nameGap:67.5,nameMoveOverlap:false,nameTextStyle:{fontFamily:FONT,fontSize:LABEL,color:INK,verticalAlign:'middle',align:'center'}});
  if(diag){
    const h=histograms[c];
    yAxes.push({type:'value',gridIndex:idx,min:0,max:Math.max(...h)*1.1,show:true,splitLine:{show:false},axisLine:{show:false},axisTick:{show:false},axisLabel:{show:false}});
    const pts=[[uX(c,0),0]];
    h.forEach((v,i)=>{pts.push([uX(c,i),v]);pts.push([uX(c,i+1),v]);});
    pts.push([uX(c,20),0]);
    series.push({type:'line',xAxisIndex:idx,yAxisIndex:idx,data:pts,symbol:'none',silent:true,animation:false,lineStyle:{color:'#000',width:1.4,join:'miter'},z:5});
  }else{
    yAxes.push({type:'value',gridIndex:idx,min:axisMin[r],max:axisMax[r],splitLine:{show:false},axisLine:{show:false},
      axisTick:{show:true,length:5,lineStyle:{color:'#000',width:1},customValues:tickValues[r]},
      axisLabel:{show:labY,customValues:tickValues[r],rotate:45,align:'right',verticalAlign:'middle',margin:14.5,fontFamily:FONT,fontSize:LABEL,color:INK,hideOverlap:false,
        formatter:v=>{let b=0;tickValues[r].forEach((t,i)=>{if(Math.abs(t-v)<Math.abs(tickValues[r][b]-v))b=i;});return tickLabels[r][b];}},
      name:labY?varNames[r]:'',nameLocation:'middle',nameGap:68,nameRotate:90,nameMoveOverlap:false,nameTextStyle:{fontFamily:FONT,fontSize:LABEL,color:INK,verticalAlign:'middle',align:'center'}});
    const m=panelMarks[r+'_'+c];
    if(m){
      const [heat,closed,open,dots]=m;
      const dp=[];for(let i=0;i<dots.length;i+=2)dp.push([uX(c,dots[i]),uX(r,dots[i+1])]);
      series.push({type:'scatter',xAxisIndex:idx,yAxisIndex:idx,data:dp,symbol:'circle',symbolSize:3,silent:true,animation:false,itemStyle:{color:'rgba(0,0,0,0.15)'},z:2});
      const cells=[];
      const topV=heat[0];
      heat.slice(1).forEach((row,k)=>{const v=topV-k;for(let u=0;u<20&&u<row.length;u++){const L=+row[u];if(L>0)cells.push([uX(c,u),uX(r,v),uX(c,u+1),uX(r,v+1),L]);}});
      series.push({type:'custom',xAxisIndex:idx,yAxisIndex:idx,data:cells,silent:true,animation:false,z:3,encode:{x:[0,2],y:[1,3]},clip:true,
        renderItem:(p,api)=>{const a=api.coord([api.value(0),api.value(3)]),b=api.coord([api.value(2),api.value(1)]);
          const x=Math.round(a[0]),y=Math.round(a[1]);
          return {type:'rect',shape:{x,y,width:Math.round(b[0])-x,height:Math.round(b[1])-y},style:{fill:grayLevels[api.value(4)],stroke:null}};}});
      const linePts=[];
      const add=(arr,close)=>{for(let i=0;i<arr.length;i+=2)linePts.push([uX(c,arr[i]),uX(r,arr[i+1])]);
        if(close)linePts.push([uX(c,arr[0]),uX(r,arr[1])]);linePts.push(['-','-']);};
      closed.forEach(a=>add(a,true));open.forEach(a=>add(a,false));
      if(linePts.length)series.push({type:'line',xAxisIndex:idx,yAxisIndex:idx,data:linePts,symbol:'none',silent:true,animation:false,connectNulls:false,lineStyle:{color:'#000',width:1.9,join:'miter'},z:4});
    }
  }
  idx++;
}
// panel titles with stacked upper and lower errors
for(let i=0;i<8;i++){
  const left=X0+PITCH*i,top=Y0+PITCH*i,center=left+PANEL/2+0.5;
  const main=varNames[i]+' = '+medians[i];
  const w1=textW(main,TITLE),w2=Math.max(textW(uppers[i],SCRIPT),textW(lowers[i],SCRIPT));
  const x=center-(w1+w2)/2;
  const T=(s,xx,yy,sz)=>graphics.push({type:'text',x:xx,y:yy,z:50,silent:true,style:{text:s,font:sz+'px "DejaVu Sans"',fill:INK,textAlign:'left',textVerticalAlign:'middle'}});
  T(main,x,top-13,TITLE);T(uppers[i],x+w1,top-18,SCRIPT);T(lowers[i],x+w1,top-7.5,SCRIPT);
}
graphics.push({type:'text',x:101,y:241.5,z:50,silent:true,style:{text:'1e\u22125',font:LABEL+'px "DejaVu Sans"',fill:INK,textAlign:'left',textVerticalAlign:'middle'}});
graphics.push({type:'text',x:510,y:1755.5,z:50,silent:true,style:{text:'1e\u22125',font:LABEL+'px "DejaVu Sans"',fill:INK,textAlign:'right',textVerticalAlign:'middle'}});

const chart=echarts.init(document.getElementById('c'),null,{renderer:'canvas',width:1809,height:1809});
chart.setOption({animation:false,backgroundColor:'#fff',grid:grids,xAxis:xAxes,yAxis:yAxes,series,graphic:graphics});
</script></body></html>
